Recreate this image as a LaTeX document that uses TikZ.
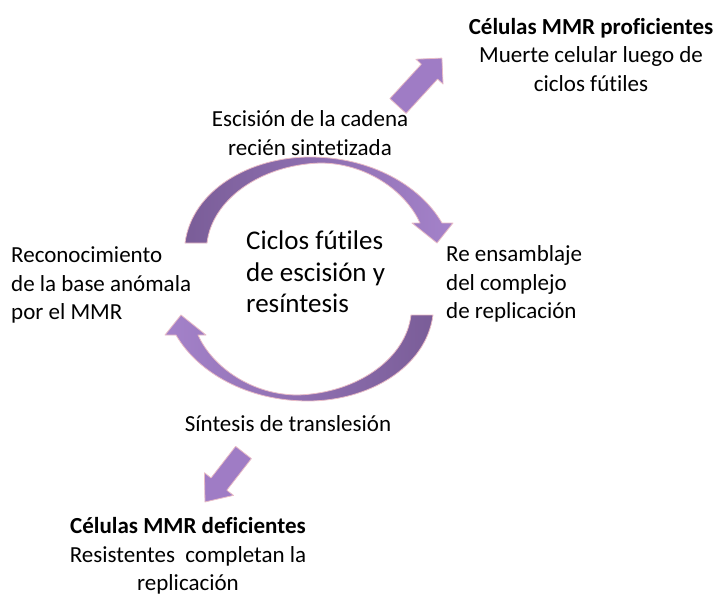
\documentclass[tikz,border=0pt]{standalone}
\usepackage{fontspec}
\setmainfont{Carlito}[Ligatures=NoCommon]
\definecolor{darkp}{RGB}{122,93,152}
\definecolor{lightp}{RGB}{164,130,202}
\definecolor{arrowp}{RGB}{159,124,197}
\definecolor{pinkedge}{RGB}{232,188,198}
\begin{document}
\begin{tikzpicture}[x=1pt,y=-1pt,
  lbl/.style={inner sep=0pt, font=\fontsize{23}{28.3}\selectfont},
  big/.style={inner sep=0pt, font=\fontsize{27}{31.7}\selectfont},
  edgeline/.style={draw=pinkedge, line width=0.8pt, line join=round},
  straightarrow/.style={fill=arrowp, edgeline},
]
\path[use as bounding box] (0,0) rectangle (724,597);

% top curved arrow
\shade[left color=darkp, right color=lightp, edgeline]
  (185,243) .. controls (192,190) and (250,157) .. (310,157)
  .. controls (370,157) and (420,185) .. (442,223)
  -- (453,223) -- (437,243) -- (412,223) -- (420,223)
  .. controls (405,190) and (365,163) .. (320,163)
  .. controls (260,165) and (212,200) .. (207,243)
  -- cycle;

% bottom curved arrow
\shade[left color=lightp, right color=darkp, edgeline]
  (433,315) .. controls (426,368) and (368,401) .. (308,401)
  .. controls (248,401) and (198,373) .. (176,335)
  -- (165,335) -- (181,315) -- (206,335) -- (198,335)
  .. controls (213,368) and (253,395) .. (298,395)
  .. controls (358,393) and (406,358) .. (411,315)
  -- cycle;

% straight arrows
\begin{scope}[shift={(398,106)}, rotate=47.5]
  \path[straightarrow] (0,-11) -- (46.6,-11) -- (46.6,-18.4) -- (65,0) -- (46.6,18.4) -- (46.6,11) -- (0,11) -- cycle;
\end{scope}
\begin{scope}[shift={(243.5,452.5)}, rotate=232.1]
  \path[straightarrow] (0,-10) -- (40,-10) -- (40,-18.4) -- (62.7,0) -- (40,18.4) -- (40,10) -- (0,10) -- cycle;
\end{scope}

% texts
\node[lbl, align=center] (esc) at (310,133) {Escisión de la cadena\\recién sintetizada};
\node[lbl, align=left, anchor=west] (reens) at (446,284) {Re ensamblaje\\del complejo\\de replicación};
\node[lbl, align=left, anchor=west] (recon) at (11,285) {Reconocimiento\\de la base anómala\\por el MMR};
\node[big, align=left, anchor=west] (ciclos) at (246,272) {Ciclos fútiles\\de escisión y\\resíntesis};
\node[lbl] (sint) at (288,424) {Síntesis de translesión};
\node[lbl, align=center] (prof) at (591,55) {\textbf{Células MMR proficientes}\\Muerte celular luego de\\ciclos fútiles};
\node[lbl, align=center] (def) at (188,556) {\textbf{Células MMR deficientes}\\Resistentes~ completan la\\replicación};
\end{tikzpicture}
\end{document}
